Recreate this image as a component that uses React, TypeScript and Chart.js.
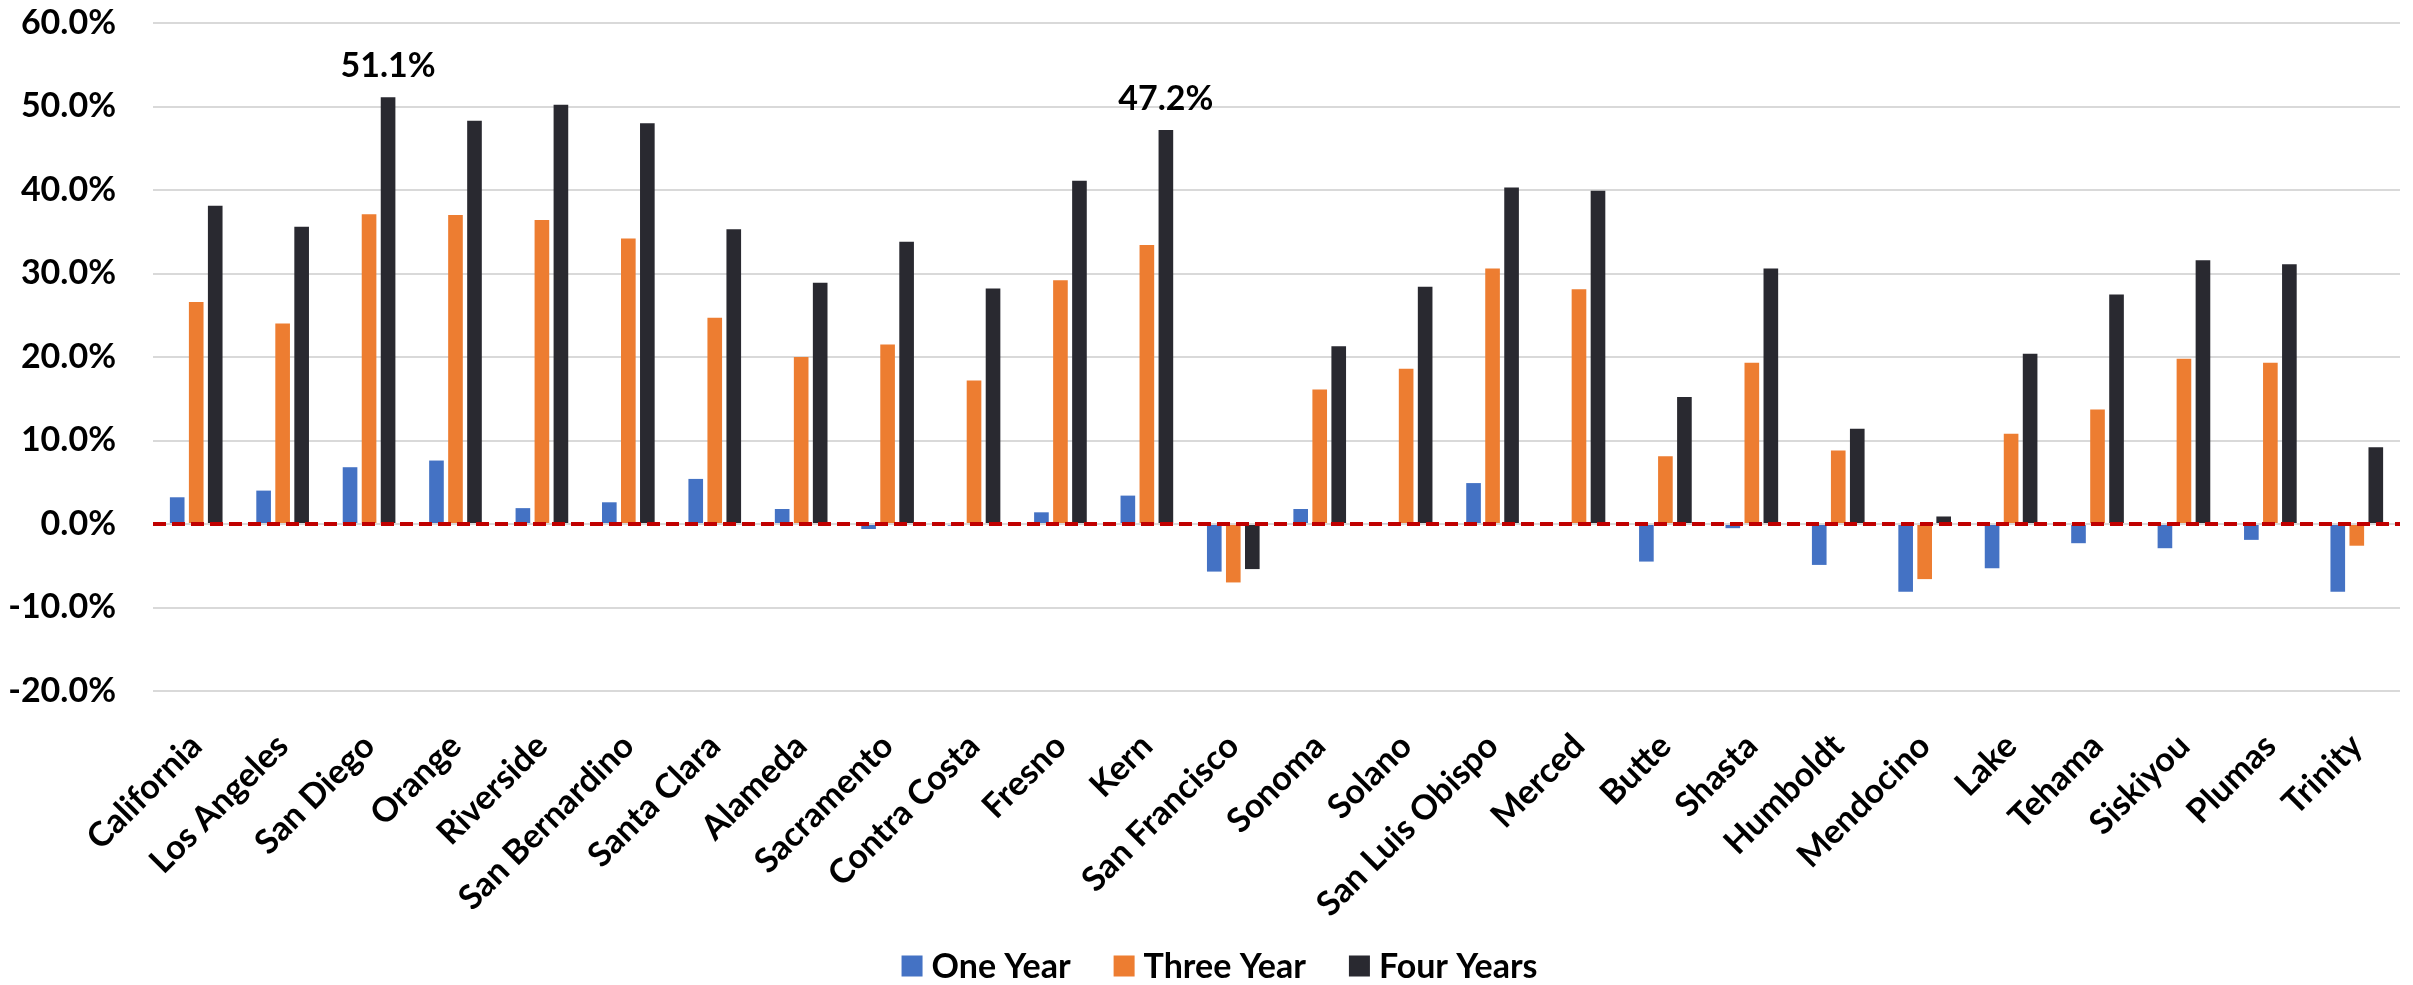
import React, { useEffect, useRef } from "react";
import { Chart, registerables } from "chart.js";

Chart.register(...registerables);

// Counties along the x axis
const counties: string[] = [
  "California", "Los Angeles", "San Diego", "Orange", "Riverside",
  "San Bernardino", "Santa Clara", "Alameda", "Sacramento", "Contra Costa",
  "Fresno", "Kern", "San Francisco", "Sonoma", "Solano", "San Luis Obispo",
  "Merced", "Butte", "Shasta", "Humboldt", "Mendocino", "Lake", "Tehama",
  "Siskiyou", "Plumas", "Trinity",
];

// Percent change over each period
const oneYear: number[] = [
  3.2, 4.0, 6.8, 7.6, 1.9, 2.6, 5.4, 1.8, -0.6, -0.2, 1.4, 3.4, -5.7,
  1.8, 0.1, 4.9, 0.0, -4.5, -0.5, -4.9, -8.1, -5.3, -2.3, -2.9, -1.9, -8.1,
];
const threeYear: number[] = [
  26.6, 24.0, 37.1, 37.0, 36.4, 34.2, 24.7, 20.0, 21.5, 17.2, 29.2, 33.4, -7.0,
  16.1, 18.6, 30.6, 28.1, 8.1, 19.3, 8.8, -6.6, 10.8, 13.7, 19.8, 19.3, -2.6,
];
const fourYears: number[] = [
  38.1, 35.6, 51.1, 48.3, 50.2, 48.0, 35.3, 28.9, 33.8, 28.2, 41.1, 47.2, -5.4,
  21.3, 28.4, 40.3, 39.9, 15.2, 30.6, 11.4, 0.9, 20.4, 27.5, 31.6, 31.1, 9.2,
];

// Series names and y-axis range
const seriesNames: string[] = ["One Year", "Three Year", "Four Years"];
const yMin = -20;
const yMax = 60;
const yStep = 10;

// Four-year bars that carry a value callout
const calloutCounties: string[] = ["San Diego", "Kern"];

const COLORS = ["#4472C4", "#ED7D31", "#292930"];
const FONT_FAMILY = "Lato, 'Open Sans', sans-serif";
const FONT_SIZE = 34;

const pct = (v: number) => `${v.toFixed(1)}%`;

// Red dashed reference line at zero, drawn over the bars
const zeroLinePlugin = {
  id: "zeroLine",
  afterDatasetsDraw(chart: any) {
    const { ctx, chartArea, scales } = chart;
    const y = scales.y.getPixelForValue(0);
    ctx.save();
    ctx.strokeStyle = "#C00000";
    ctx.lineWidth = 4;
    ctx.setLineDash([13, 6]);
    ctx.beginPath();
    ctx.moveTo(chartArea.left, y);
    ctx.lineTo(chartArea.right, y);
    ctx.stroke();
    ctx.restore();
  },
};

// Value callouts above selected four-year bars
const calloutPlugin = {
  id: "callouts",
  afterDatasetsDraw(chart: any) {
    const { ctx } = chart;
    const meta = chart.getDatasetMeta(2);
    ctx.save();
    ctx.font = `bold ${FONT_SIZE}px ${FONT_FAMILY}`;
    ctx.fillStyle = "#000";
    ctx.textAlign = "center";
    ctx.textBaseline = "alphabetic";
    calloutCounties.forEach((name) => {
      const i = counties.indexOf(name);
      const bar = meta.data[i];
      ctx.fillText(pct(fourYears[i]), bar.x, bar.y - 20);
    });
    ctx.restore();
  },
};

// Legend row below the axis labels
const legendPlugin = {
  id: "bottomLegend",
  afterDraw(chart: any) {
    const { ctx } = chart;
    const box = 21;
    const textGap = 9;
    const itemGap = 43;
    ctx.save();
    ctx.font = `bold ${FONT_SIZE}px ${FONT_FAMILY}`;
    const widths = seriesNames.map((n) => ctx.measureText(n).width);
    const total =
      widths.reduce((a, w) => a + box + textGap + w, 0) +
      itemGap * (seriesNames.length - 1);
    const cy = 966;
    let x = chart.width / 2 + 13 - total / 2;
    seriesNames.forEach((name, k) => {
      ctx.fillStyle = COLORS[k];
      ctx.fillRect(x, cy - box / 2, box, box);
      x += box + textGap;
      ctx.fillStyle = "#000";
      ctx.textAlign = "left";
      ctx.textBaseline = "middle";
      ctx.fillText(name, x, cy + 1);
      x += widths[k] + itemGap;
    });
    ctx.restore();
  },
};

export default function App() {
  const canvasRef = useRef<HTMLCanvasElement | null>(null);

  useEffect(() => {
    const canvas = canvasRef.current;
    if (!canvas) return;
    const series = [oneYear, threeYear, fourYears];
    const chart = new Chart(canvas, {
      type: "bar",
      data: {
        labels: counties,
        datasets: series.map((data, k) => ({
          label: seriesNames[k],
          data,
          backgroundColor: COLORS[k],
          categoryPercentage: 0.66,
          barPercentage: 0.77,
        })),
      },
      options: {
        responsive: false,
        animation: false,
        devicePixelRatio: 1,
        layout: { padding: { top: 23, right: 13, bottom: 0, left: 0 } },
        plugins: {
          legend: { display: false },
          tooltip: { enabled: false },
        },
        scales: {
          x: {
            grid: { display: false, drawTicks: false },
            border: { display: false },
            ticks: {
              autoSkip: false,
              minRotation: 45,
              maxRotation: 45,
              padding: 35,
              color: "#000",
              font: { family: FONT_FAMILY, size: FONT_SIZE, weight: "bold" },
            },
            afterFit(scale: any) {
              scale.height = 294;
              scale.paddingLeft = 0;
              scale.paddingRight = 0;
            },
          },
          y: {
            min: yMin,
            max: yMax,
            grid: { color: "#D9D9D9", lineWidth: 2, drawTicks: false },
            border: { display: false },
            ticks: {
              stepSize: yStep,
              padding: 37,
              color: "#000",
              font: { family: FONT_FAMILY, size: FONT_SIZE, weight: "bold" },
              callback: (v: any) => pct(Number(v)),
            },
            afterFit(scale: any) {
              scale.width = 153;
              scale.paddingTop = 0;
              scale.paddingBottom = 0;
            },
          },
        },
      },
      plugins: [zeroLinePlugin, calloutPlugin, legendPlugin],
    });
    return () => chart.destroy();
  }, []);

  return (
    <div style={{ position: "absolute", left: 0, top: 0, width: 2413, height: 985, background: "#fff" }}>
      <canvas ref={canvasRef} width={2413} height={985} style={{ display: "block" }} />
    </div>
  );
}
